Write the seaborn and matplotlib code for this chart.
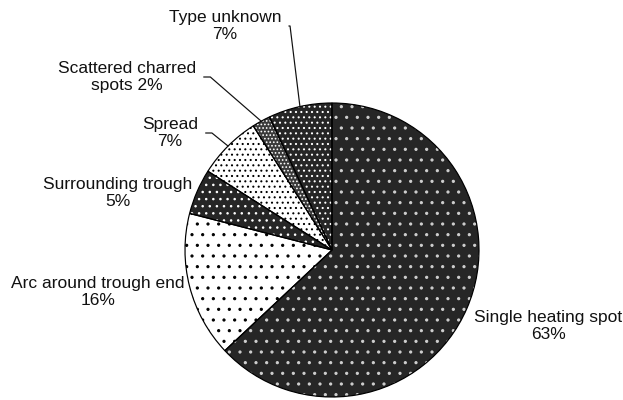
import matplotlib
matplotlib.use("Agg")
import matplotlib.pyplot as plt
import numpy as np
import seaborn as sns

# --- data (clockwise from 12 o'clock) ---
categories = ["Single heating spot", "Arc around trough end", "Surrounding trough",
              "Spread", "Scattered charred spots", "Type unknown"]
shares = [63, 16, 5, 7, 2, 7]
label_text = ["Single heating spot\n63%", "Arc around trough end\n16%",
              "Surrounding trough\n5%", "Spread\n7%",
              "Scattered charred\nspots 2%", "Type unknown\n7%"]

# fill textures (face colour + dot hatch) per slice
fills = ["#262626", "white", "#262626", "white", "#3a3a3a", "#262626"]
dot_colors = ["#d0d0d0", "black", "white", "black", "white", "white"]
hatches = ["..", "..", "...", "....", "......", "...."]

# label centres in image pixels (x, y from top), and leader angle (None = no leader)
label_pos = [(548, 326), (98, 292), (118, 193), (170, 133), (127, 77), (225, 26)]
leader_angle = [None, None, None, 141, 139, 97]

W, H = 623, 400
DPI = 128  # hatch spacing scales with dpi, this one gives the dot pitch of the scan


def pt(px):
    return px * 72 / DPI


sns.set_theme(style="white")
plt.rcParams["font.family"] = ["Liberation Sans", "DejaVu Sans"]
plt.rcParams["hatch.linewidth"] = 0.6

fig = plt.figure(figsize=(W / DPI, H / DPI), dpi=DPI)
# pie centre ~ (332, 250), radius ~147 px
ax = fig.add_axes([185 / W, 3 / H, 294 / W, 294 / H])

base, _ = ax.pie(shares, startangle=90, counterclock=False, colors=fills,
                 wedgeprops=dict(linewidth=0))
dots, _ = ax.pie(shares, startangle=90, counterclock=False, colors=["none"] * len(shares),
                 wedgeprops=dict(linewidth=0))
for w, h, c in zip(dots, hatches, dot_colors):
    w.set_hatch(h)
    w.set_edgecolor(c)
    w.set_linewidth(0)
outline, _ = ax.pie(shares, startangle=90, counterclock=False, colors=["none"] * len(shares),
                    wedgeprops=dict(edgecolor="black", linewidth=pt(1.2)))

ax.set_xlim(-1, 1)
ax.set_ylim(-1, 1)
ax.set_aspect("equal")
ax.axis("off")
for w in base + dots + outline:
    w.set_clip_on(False)

fs = pt(17.4)
for w, txt, (px, py), ang in zip(base, label_text, label_pos, leader_angle):
    pos = (px / W, 1 - py / H)
    if ang is None:
        fig.text(pos[0], pos[1], txt, ha="center", va="center", fontsize=fs,
                 color="#111111", linespacing=1.1)
    else:
        mid = np.deg2rad((w.theta1 + w.theta2) / 2)
        ax.annotate(txt, xy=(np.cos(mid), np.sin(mid)), xycoords="data",
                    xytext=pos, textcoords="figure fraction",
                    ha="center", va="center", fontsize=fs, color="#111111",
                    linespacing=1.1,
                    arrowprops=dict(arrowstyle="-", color="#111111", lw=pt(1.2),
                                    connectionstyle=f"angle,angleA=0,angleB={ang},rad=0",
                                    relpos=(1, 0.5), shrinkA=2, shrinkB=0))

fig.savefig("out.png", dpi=DPI)
